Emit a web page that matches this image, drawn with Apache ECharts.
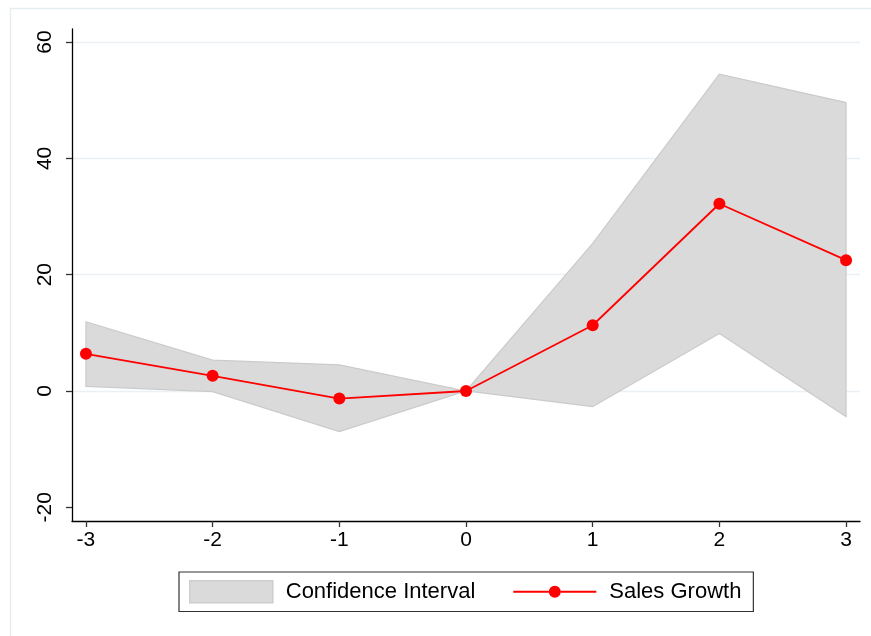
<!DOCTYPE html>
<html>
<head>
<meta charset="utf-8">
<script src="https://cdn.jsdelivr.net/npm/echarts@6/dist/echarts.min.js"></script>
<style>html,body{margin:0;padding:0;background:#fff}#c{width:871px;height:636px}</style>
</head>
<body>
<div id="c"></div>
<script>
var xValues = [-3, -2, -1, 0, 1, 2, 3];
var salesGrowth = [6.4, 2.6, -1.3, 0, 11.3, 32.2, 22.5];
var ciUpper = [11.9, 5.3, 4.5, 0, 25.4, 54.5, 49.6];
var ciLower = [0.8, -0.1, -7.0, 0, -2.7, 9.9, -4.4];
var xTicks = [-3, -2, -1, 0, 1, 2, 3];
var yTicks = [-20, 0, 20, 40, 60];
var gridLines = [0, 20, 40, 60];

var chart = echarts.init(document.getElementById('c'), null, {renderer: 'canvas'});
var font = 'Liberation Sans, Arial, sans-serif';

var ciData = xValues.map(function (x, i) { return [x, ciUpper[i], ciLower[i]]; });
var lineData = xValues.map(function (x, i) { return [x, salesGrowth[i]]; });

var lineIcon = 'path://M0,5.1H35.5V6.9H0Z M47.5,5.1H83V6.9H47.5Z M35.5,6A6,6 0 1,1 47.5,6A6,6 0 1,1 35.5,6Z';

chart.setOption({
  animation: false,
  graphic: [{
    type: 'rect', left: 8, top: 6, silent: true, z: -10,
    shape: {width: 900, height: 700},
    style: {fill: 'none', stroke: '#e6edf1', lineWidth: 1.5}
  }],
  grid: {left: 72, right: 11, top: 29, bottom: 115, containLabel: false},
  legend: {
    left: 179, top: 572,
    padding: [8, 12, 8, 10],
    borderColor: '#333', borderWidth: 1.2,
    itemWidth: 83, itemHeight: 22, itemGap: 38,
    symbolKeepAspect: true,
    textStyle: {fontFamily: font, fontSize: 22, color: '#000', padding: [0, 0, 0, 8]},
    data: [
      {name: 'Confidence Interval', icon: 'rect', itemStyle: {color: '#dadada', borderColor: '#cdcdcd', borderWidth: 1.5}},
      {name: 'Sales Growth', icon: lineIcon, itemStyle: {color: '#ff0000', borderWidth: 0}}
    ]
  },
  xAxis: {
    type: 'value', min: -3.11, max: 3.11,
    axisLine: {show: true, onZero: false, lineStyle: {color: '#000', width: 1.3}},
    axisTick: {show: true, customValues: xTicks, length: 6, lineStyle: {color: '#333', width: 1.3}},
    axisLabel: {customValues: xTicks, margin: 9, fontFamily: font, fontSize: 21, color: '#000'},
    splitLine: {show: false}
  },
  yAxis: {
    type: 'value', min: -22.36, max: 62.25,
    axisLine: {show: true, onZero: false, lineStyle: {color: '#000', width: 1.3}},
    axisTick: {show: true, customValues: yTicks, length: 6, lineStyle: {color: '#333', width: 1.3}},
    axisLabel: {customValues: yTicks, rotate: 90, margin: 16, fontFamily: font, fontSize: 21, color: '#000'},
    splitLine: {show: false}
  },
  series: [
    {
      name: 'Confidence Interval',
      type: 'custom',
      data: ciData,
      encode: {x: 0, y: [1, 2]},
      itemStyle: {color: '#dadada'},
      z: 1,
      renderItem: function (params, api) {
        if (params.dataIndex !== 0) return null;
        var pts = [];
        for (var i = 0; i < xValues.length; i++) pts.push(api.coord([xValues[i], ciUpper[i]]));
        for (var j = xValues.length - 1; j >= 0; j--) pts.push(api.coord([xValues[j], ciLower[j]]));
        return {
          type: 'polygon',
          shape: {points: pts},
          style: {fill: '#dadada', stroke: '#cbcbcb', lineWidth: 1.2}
        };
      }
    },
    {
      name: 'Sales Growth',
      type: 'line',
      data: lineData,
      z: 3,
      symbol: 'circle', symbolSize: 12,
      lineStyle: {color: '#ff0000', width: 1.8},
      itemStyle: {color: '#ff0000'},
      markLine: {
        silent: true, symbol: 'none', z: 0,
        label: {show: false},
        lineStyle: {color: '#eaf0f4', width: 1.3, type: 'solid'},
        data: gridLines.map(function (v) { return {yAxis: v}; })
      }
    }
  ]
});
</script>
</body>
</html>
